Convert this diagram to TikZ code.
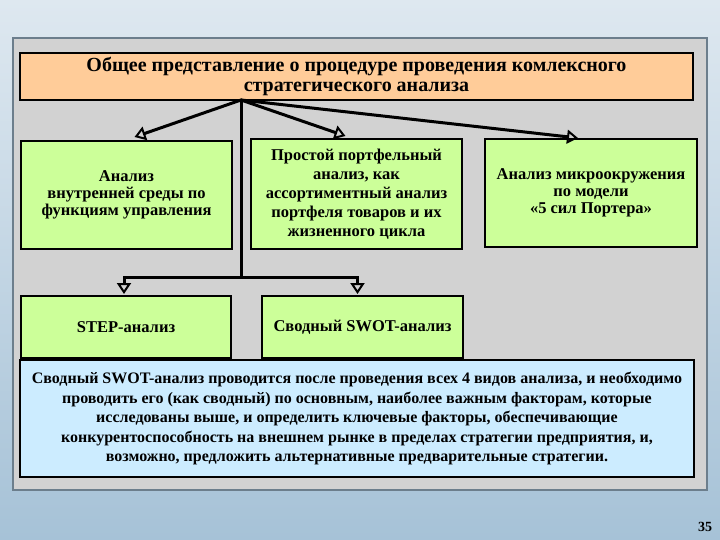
\documentclass[tikz,border=0pt]{standalone}
\usepackage{fontspec}
\setmainfont{Liberation Serif}
\usetikzlibrary{arrows.meta}
\definecolor{peach}{RGB}{255,204,153}
\definecolor{lime}{RGB}{204,255,153}
\definecolor{paleblue}{RGB}{204,236,255}
\definecolor{panelgray}{RGB}{210,210,210}
\definecolor{skytop}{RGB}{222,232,240}
\definecolor{skybottom}{RGB}{166,194,215}
\begin{document}
\begin{tikzpicture}[x=1pt,y=-1pt,
  box/.style={draw=black,line width=2pt,inner sep=2pt,align=center,font=\bfseries},
  titlebox/.style={box,fill=peach,minimum width=673pt,minimum height=47pt,font=\bfseries\fontsize{20}{20}\selectfont},
  greenbox/.style={box,fill=lime,font=\bfseries\fontsize{16.5}{17}\selectfont},
  notebox/.style={box,fill=paleblue,minimum width=674pt,minimum height=117pt,font=\bfseries\fontsize{16}{19.5}\selectfont},
  link/.style={line width=3pt,line cap=round},
  arr/.style={link,-{Triangle[open,length=11pt,width=14pt,line width=2pt]}}]
 % background
 \shade[top color=skytop,bottom color=skybottom] (0,0) rectangle (720,540);
 \useasboundingbox (0,0) rectangle (720,540);
 \draw[fill=panelgray,draw=black!35!skybottom,line width=2pt] (13,38) rectangle (707,490);
 % boxes
 \node[titlebox] (title) at (356.5,76.5)
   {Общее представление о процедуре проведения комлексного\\стратегического анализа};
 \node[greenbox,minimum width=211pt,minimum height=108pt] (intern) at (126.5,195)
   {Анализ\\внутренней среды по\\функциям управления};
 \node[greenbox,minimum width=211pt,minimum height=110pt,font=\bfseries\fontsize{16.5}{19}\selectfont] (portf) at (356.5,194)
   {Простой портфельный\\анализ, как\\ассортиментный анализ\\портфеля товаров и их\\жизненного цикла};
 \node[greenbox,minimum width=212pt,minimum height=108pt] (porter) at (591,193)
   {Анализ микроокружения\\по модели\\«5 сил Портера»};
 \node[greenbox,minimum width=210pt,minimum height=62pt] (stepbox) at (126,327) {STEP-анализ};
 \node[greenbox,minimum width=201pt,minimum height=62pt] (swot) at (362.5,327) {Сводный SWOT-анализ};
 \node[notebox] (note) at (357,418.5)
   {Сводный SWOT-анализ проводится после проведения всех 4 видов анализа, и необходимо\\
    проводить его (как сводный) по основным, наиболее важным факторам, которые\\
    исследованы выше, и определить ключевые факторы, обеспечивающие\\
    конкурентоспособность на внешнем рынке в пределах стратегии предприятия, и,\\
    возможно, предложить альтернативные предварительные стратегии.};
 % connectors
 \coordinate (hub) at (241,100);
 \coordinate (junc) at (241,277);
 \draw[arr] (hub) -- ([xshift=8pt,yshift=3pt]intern.north);
 \draw[arr] (hub) -- ([xshift=-11pt,yshift=2pt]portf.north);
 \draw[arr] (hub) -- ([xshift=-13pt,yshift=0pt]porter.north);
 \draw[link] (hub) -- (junc);
 \draw[arr] (junc) -| ([xshift=-2pt,yshift=1pt]stepbox.north);
 \draw[arr] (junc) -| ([xshift=-5pt,yshift=1pt]swot.north);
 \node[font=\bfseries\fontsize{14}{16}\selectfont] (pagenum) at (705,527) {35};
\end{tikzpicture}
\end{document}
